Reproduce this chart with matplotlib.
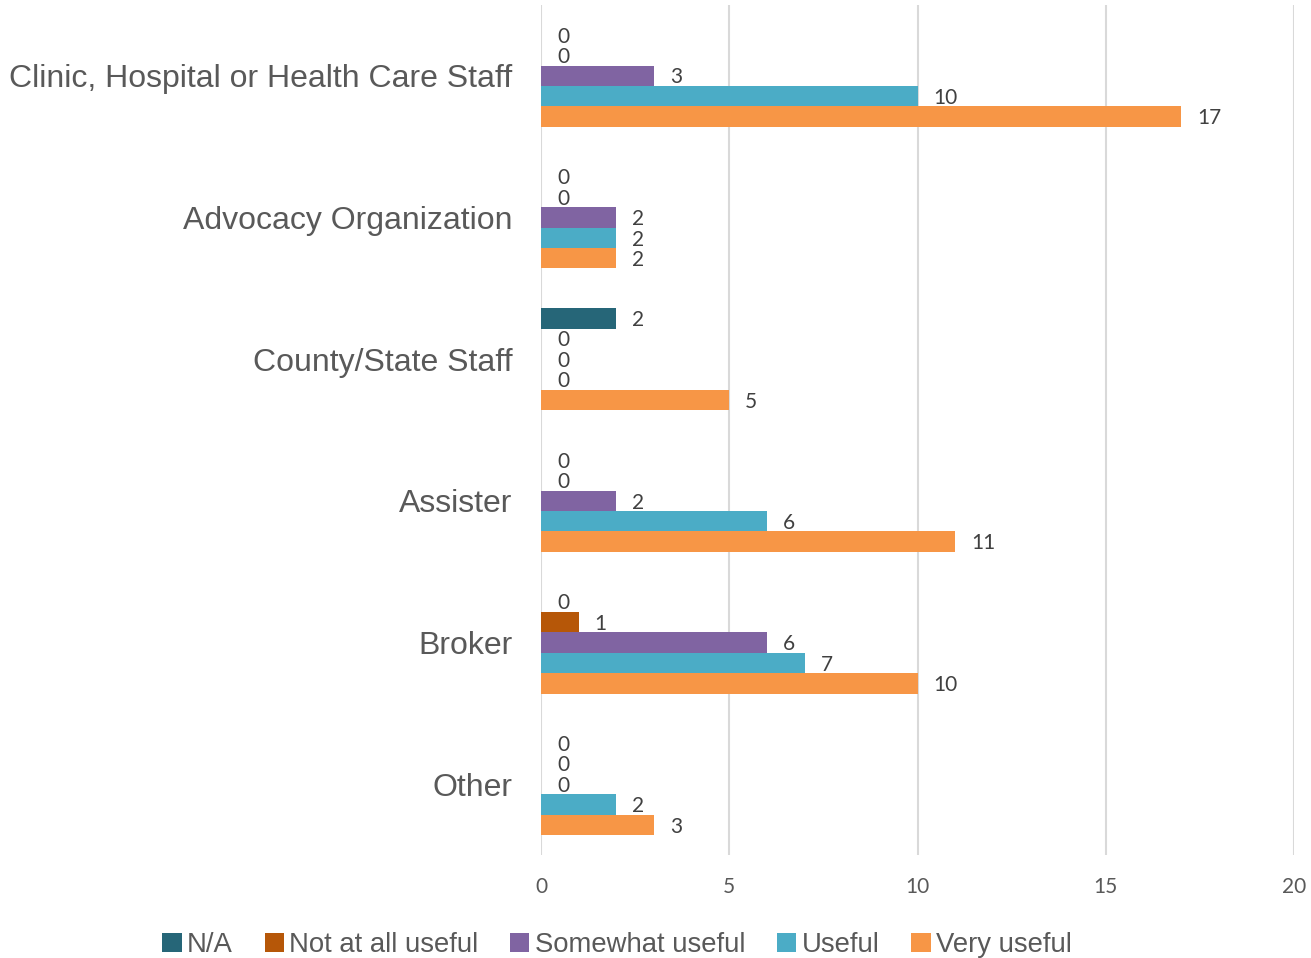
import matplotlib.pyplot as plt
import numpy as np

categories = ['Clinic, Hospital or Health Care Staff', 'Advocacy Organization',
              'County/State Staff', 'Assister', 'Broker', 'Other']
series = ['N/A', 'Not at all useful', 'Somewhat useful', 'Useful', 'Very useful']
values = {
    'N/A':               [0, 0, 2, 0, 0, 0],
    'Not at all useful': [0, 0, 0, 0, 1, 0],
    'Somewhat useful':   [3, 2, 0, 2, 6, 0],
    'Useful':            [10, 2, 0, 6, 7, 2],
    'Very useful':       [17, 2, 5, 11, 10, 3],
}
colors = ['#266678', '#B65708', '#8064A2', '#4BACC6', '#F79646']
x_ticks = [0, 5, 10, 15, 20]

text_color = '#595959'

fig = plt.figure(figsize=(13.11, 9.58), dpi=100)
ax = fig.add_axes([0.4127, 0.1075, 0.5743, 0.8873])

y = np.arange(len(categories))
bar_h = 0.72 / len(series)

for i, name in enumerate(series):
    pos = y - 0.36 + bar_h * (i + 0.5)
    bars = ax.barh(pos, values[name], height=bar_h, color=colors[i], label=name, zorder=3)
    for b, v in zip(bars, values[name]):
        ax.annotate(str(v), (v, b.get_y() + b.get_height() / 2),
                    xytext=(11.5, -1.2), textcoords='offset points',
                    ha='left', va='center', fontsize=15, family='Lato',
                    color='#404040', zorder=4)

ax.set_xlim(0, 20)
ax.set_ylim(len(categories) - 0.5, -0.5)
ax.set_xticks(x_ticks)
ax.set_yticks(y)
ax.set_yticklabels(categories, fontsize=23, family='Liberation Sans', color=text_color)
ax.tick_params(axis='y', length=0, pad=20.5)
ax.tick_params(axis='x', length=0, pad=16, labelsize=15, labelcolor=text_color)
for lab in ax.get_xticklabels():
    lab.set_family('Lato')

ax.grid(axis='x', color='#D9D9D9', linewidth=1.5, zorder=0)
for s in ax.spines.values():
    s.set_visible(False)

fig.legend(loc='center', bbox_to_anchor=(0.4707, 0.0135), ncol=5, frameon=False,
           prop={'family': 'Liberation Sans', 'size': 19.8},
           handlelength=0.7, handleheight=0.7, handletextpad=0.2,
           columnspacing=1.15, labelcolor=text_color)

fig.savefig('out.png', dpi=100)
